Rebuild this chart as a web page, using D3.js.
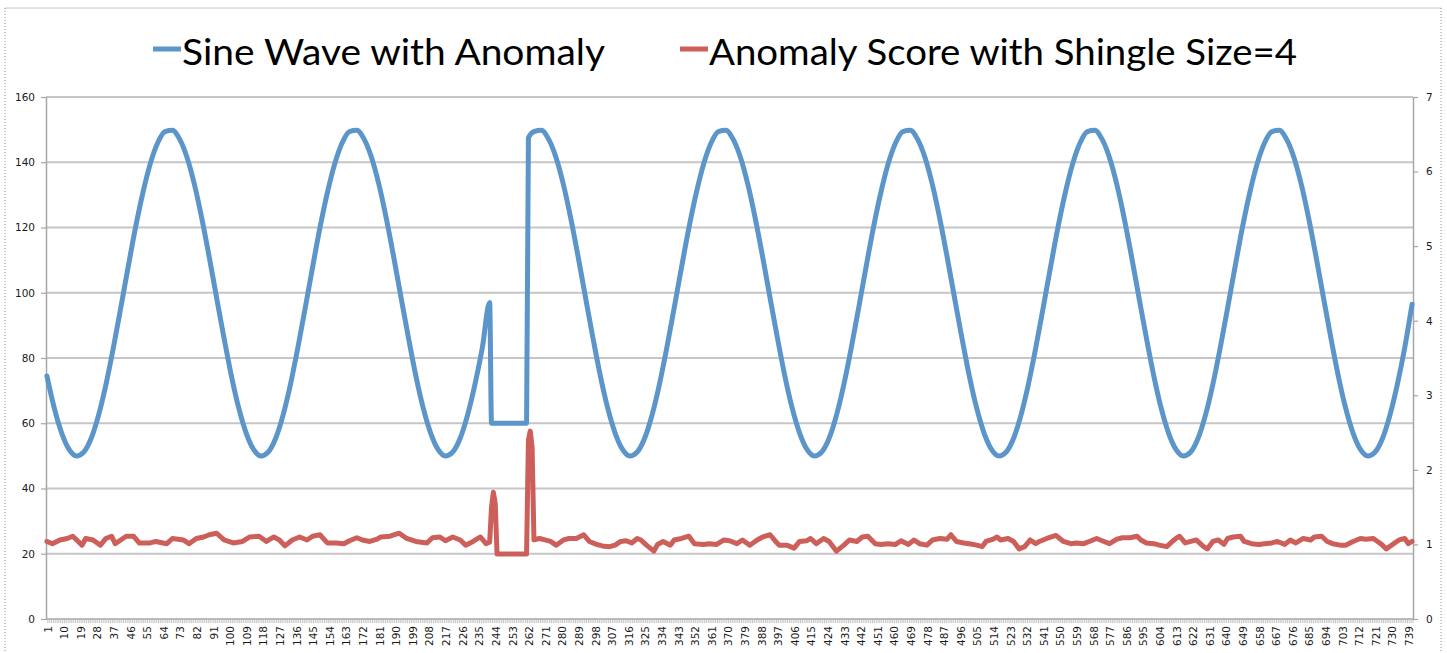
<!DOCTYPE html>
<html>
<head>
<meta charset="utf-8">
<script src="https://d3js.org/d3.v7.min.js"></script>
<style>
	body { margin: 0; background: #fff; }
	svg { display: block; }
</style>
</head>
<body>
<div id="chart"></div>
<script>
// x categories 1..741, one label every 9th category
const categories = d3.range(1, 742);
const xLabels = categories.filter(d => (d - 1) % 9 === 0);
const leftTicks = [0, 20, 40, 60, 80, 100, 120, 140, 160];
const rightTicks = [0, 1, 2, 3, 4, 5, 6, 7];
const seriesNames = ["Sine Wave with Anomaly", "Anomaly Score with Shingle Size=4"];

// [category, value] (left axis)
const sineWave = [
	[1,74.5],[5,64.6],[9,57],[13,52],[17,50],[21,51.2],[25,55.4],[29,62.5],[33,71.9],[37,83.1],[41,95.3],[45,107.8],[49,119.9],
	[53,130.6],[57,139.5],[61,145.9],[65,149.4],[69,149.8],[73,147],[77,141.4],[81,133.1],[85,122.7],[89,110.9],[93,98.4],[97,86.1],
	[101,74.5],[105,64.6],[109,57],[113,52],[117,50],[121,51.2],[125,55.4],[129,62.5],[133,71.9],[137,83.1],[141,95.3],[145,107.8],[149,119.9],
	[153,130.6],[157,139.5],[161,145.9],[165,149.4],[169,149.8],[173,147],[177,141.4],[181,133.1],[185,122.7],[189,110.9],[193,98.4],[197,86.1],
	[201,74.5],[205,64.6],[209,57],[213,52],[217,50],[221,51.2],[225,55.4],[229,62.5],[233,71.9],[237,83.1],[241,97],
	[242,60],[261,60],[262,147.5],
	[265,149.4],[269,149.8],[273,147],[277,141.4],[281,133.1],[285,122.7],[289,110.9],[293,98.4],[297,86.1],
	[301,74.5],[305,64.6],[309,57],[313,52],[317,50],[321,51.2],[325,55.4],[329,62.5],[333,71.9],[337,83.1],[341,95.3],[345,107.8],[349,119.9],
	[353,130.6],[357,139.5],[361,145.9],[365,149.4],[369,149.8],[373,147],[377,141.4],[381,133.1],[385,122.7],[389,110.9],[393,98.4],[397,86.1],
	[401,74.5],[405,64.6],[409,57],[413,52],[417,50],[421,51.2],[425,55.4],[429,62.5],[433,71.9],[437,83.1],[441,95.3],[445,107.8],[449,119.9],
	[453,130.6],[457,139.5],[461,145.9],[465,149.4],[469,149.8],[473,147],[477,141.4],[481,133.1],[485,122.7],[489,110.9],[493,98.4],[497,86.1],
	[501,74.5],[505,64.6],[509,57],[513,52],[517,50],[521,51.2],[525,55.4],[529,62.5],[533,71.9],[537,83.1],[541,95.3],[545,107.8],[549,119.9],
	[553,130.6],[557,139.5],[561,145.9],[565,149.4],[569,149.8],[573,147],[577,141.4],[581,133.1],[585,122.7],[589,110.9],[593,98.4],[597,86.1],
	[601,74.5],[605,64.6],[609,57],[613,52],[617,50],[621,51.2],[625,55.4],[629,62.5],[633,71.9],[637,83.1],[641,95.3],[645,107.8],[649,119.9],
	[653,130.6],[657,139.5],[661,145.9],[665,149.4],[669,149.8],[673,147],[677,141.4],[681,133.1],[685,122.7],[689,110.9],[693,98.4],[697,86.1],
	[701,74.5],[705,64.6],[709,57],[713,52],[717,50],[721,51.2],[725,55.4],[729,62.5],[733,71.9],[737,83.1],[741,96.5]
];

// [category, value] (right axis)
const anomalyScore = [
	[1,1.04],[4,1.01],[8,1.06],[12,1.08],[15,1.11],[18,1.04],[20,0.99],[22,1.08],[26,1.06],[30,0.99],[33,1.08],[36,1.11],
	[38,1.01],[41,1.06],[44,1.11],[48,1.11],[51,1.02],[57,1.02],[60,1.04],[66,1.01],[69,1.08],[75,1.06],[78,1.01],[82,1.08],
	[86,1.10],[89,1.13],[93,1.15],[97,1.06],[102,1.02],[107,1.04],[111,1.10],[116,1.11],[120,1.04],[124,1.10],[127,1.06],
	[130,0.98],[134,1.06],[138,1.10],[142,1.06],[145,1.11],[149,1.13],[153,1.02],[158,1.02],[162,1.01],[165,1.05],[169,1.09],
	[172,1.06],[176,1.04],[180,1.07],[182,1.10],[187,1.11],[192,1.15],[196,1.08],[201,1.04],[207,1.02],[210,1.09],[214,1.10],
	[217,1.05],[221,1.10],[225,1.06],[228,0.99],[232,1.04],[236,1.10],[239,1.01],[241,1.03],
	[242,1.5],[243,1.70],[244,1.55],[245,0.87],[261,0.87],[262,2.4],[263,2.52],[264,2.3],[265,1.06],
	[268,1.08],[271,1.06],[274,1.04],[277,0.99],[281,1.06],[284,1.08],[288,1.08],[292,1.13],[295,1.04],[299,1.00],[302,0.98],
	[306,0.97],[309,0.99],[312,1.04],[315,1.05],[318,1.02],[321,1.08],[323,1.06],[326,0.99],[330,0.91],[332,1.00],[335,1.04],
	[339,0.99],[341,1.06],[345,1.08],[349,1.11],[352,1.01],[357,1.00],[360,1.01],[364,1.00],[368,1.06],[371,1.05],[375,1.01],
	[378,1.06],[382,0.99],[386,1.06],[389,1.10],[393,1.13],[396,1.04],[398,0.99],[402,0.99],[406,0.95],[409,1.04],[413,1.05],
	[415,1.08],[418,1.01],[422,1.08],[425,1.04],[429,0.91],[433,0.99],[436,1.06],[440,1.04],[443,1.10],[446,1.11],[450,1.01],
	[453,1.00],[457,1.01],[461,1.00],[464,1.05],[468,1.00],[471,1.06],[474,1.01],[478,0.99],[481,1.06],[485,1.08],[489,1.07],
	[491,1.13],[494,1.04],[498,1.02],[501,1.01],[505,0.99],[508,0.97],[510,1.04],[514,1.07],[516,1.10],[518,1.06],[522,1.08],
	[525,1.04],[528,0.94],[531,0.97],[534,1.06],[537,1.01],[539,1.04],[543,1.08],[548,1.12],[552,1.04],[556,1.01],[559,1.02],
	[563,1.01],[566,1.04],[570,1.08],[574,1.04],[577,1.01],[581,1.07],[584,1.09],[588,1.09],[592,1.11],[594,1.06],[597,1.02],
	[601,1.01],[604,0.99],[608,0.97],[611,1.04],[613,1.08],[615,1.11],[618,1.02],[621,1.04],[624,1.06],[628,0.97],[630,0.94],
	[633,1.04],[636,1.06],[639,1.00],[641,1.08],[644,1.10],[648,1.11],[650,1.04],[654,1.01],[658,1.00],[661,1.01],[665,1.02],
	[668,1.04],[672,1.00],[675,1.06],[678,1.02],[682,1.08],[686,1.06],[688,1.10],[692,1.11],[695,1.04],[698,1.01],[702,0.99],
	[705,0.99],[709,1.04],[713,1.08],[716,1.07],[720,1.08],[724,1.01],[727,0.94],[731,1.01],[734,1.06],[737,1.08],[739,1.01],[741,1.04]
];

const CONFIG = {
	width: 1447,
	height: 653,
	plot: {left: 46, right: 1413, top: 97, bottom: 619},
	colors: ["#5b95c9", "#cd5f5a"],
	lineWidth: 5
};

const svg = d3.select("#chart")
	.append("svg")
	.attr("width", CONFIG.width)
	.attr("height", CONFIG.height);

const p = CONFIG.plot;

// scales
const x = d3.scalePoint()
	.domain(categories)
	.range([p.left, p.right])
	.padding(0.5);

const yLeft = d3.scaleLinear()
	.domain([0, 160])
	.range([p.bottom, p.top]);

const yRight = d3.scaleLinear()
	.domain([0, 7])
	.range([p.bottom, p.top]);

// chart frame
svg.append("line")
	.attr("x1", 5).attr("x2", 1441).attr("y1", 8).attr("y2", 8)
	.attr("stroke", "#c8c8c8").attr("stroke-width", 1);
svg.selectAll("line.frame")
	.data([5, 1441]).enter()
	.append("line")
	.attr("class", "frame")
	.attr("x1", d => d).attr("x2", d => d)
	.attr("y1", 8).attr("y2", CONFIG.height)
	.attr("stroke", "#8a8a8a")
	.attr("stroke-dasharray", "1,2");

// gridlines
svg.append("g")
	.selectAll("line")
	.data(leftTicks.filter(d => d > 0)).enter()
	.append("line")
	.attr("x1", p.left).attr("x2", p.right)
	.attr("y1", d => yLeft(d)).attr("y2", d => yLeft(d))
	.attr("stroke", "#c6c6c6")
	.attr("stroke-width", 2);

const axisFont = "'DejaVu Sans', Verdana, sans-serif";

function styleAxis(g) {
	g.select(".domain").attr("stroke", "#a6a6a6").attr("stroke-width", 1.5);
	g.selectAll(".tick line").attr("stroke", "#a6a6a6").attr("stroke-width", 1.2);
	g.selectAll(".tick text")
		.attr("fill", "#1a1a1a")
		.style("font-family", axisFont)
		.style("font-size", "10.5px");
}

svg.append("g")
	.attr("transform", `translate(${p.left},0)`)
	.call(d3.axisLeft(yLeft).tickValues(leftTicks).tickSize(5).tickPadding(6).tickSizeOuter(0))
	.call(styleAxis);

svg.append("g")
	.attr("transform", `translate(${p.right},0)`)
	.call(d3.axisRight(yRight).tickValues(rightTicks).tickFormat(d3.format("d"))
		.tickSize(5).tickPadding(8).tickSizeOuter(0))
	.call(styleAxis);

// category axis: a tick between every category, rotated labels
const step = x.step();
const xAxis = svg.append("g");
xAxis.append("line")
	.attr("x1", p.left).attr("x2", p.right)
	.attr("y1", p.bottom).attr("y2", p.bottom)
	.attr("stroke", "#a6a6a6").attr("stroke-width", 1.5);
xAxis.append("g")
	.selectAll("line")
	.data(categories).enter()
	.append("line")
	.attr("x1", d => x(d) + step / 2).attr("x2", d => x(d) + step / 2)
	.attr("y1", p.bottom).attr("y2", p.bottom + 4)
	.attr("stroke", "#b4b4b4").attr("stroke-width", 0.8);
xAxis.append("g")
	.selectAll("text")
	.data(xLabels).enter()
	.append("text")
	.attr("transform", d => `translate(${x(d) + 1},${p.bottom + 7}) rotate(-90)`)
	.attr("dy", "0.35em")
	.attr("text-anchor", "end")
	.attr("fill", "#1a1a1a")
	.style("font-family", axisFont)
	.style("font-size", "10.5px")
	.text(d => d);

// series: the wave is smooth, the score keeps its jagged segments
const lineLeft = d3.line().curve(d3.curveMonotoneX).x(d => x(d[0])).y(d => yLeft(d[1]));
const lineRight = d3.line().x(d => x(d[0])).y(d => yRight(d[1]));

svg.append("path")
	.datum(sineWave)
	.attr("d", lineLeft)
	.attr("fill", "none")
	.attr("stroke", CONFIG.colors[0])
	.attr("stroke-width", CONFIG.lineWidth)
	.attr("stroke-linejoin", "round")
	.attr("stroke-linecap", "round");

svg.append("path")
	.datum(anomalyScore)
	.attr("d", lineRight)
	.attr("fill", "none")
	.attr("stroke", CONFIG.colors[1])
	.attr("stroke-width", CONFIG.lineWidth)
	.attr("stroke-linejoin", "round")
	.attr("stroke-linecap", "round");

// legend
const legendItems = [
	{name: seriesNames[0], color: CONFIG.colors[0], x: 153, len: 423},
	{name: seriesNames[1], color: CONFIG.colors[1], x: 680, len: 588}
];

const legend = svg.append("g")
	.selectAll("g")
	.data(legendItems).enter()
	.append("g")
	.attr("transform", d => `translate(${d.x},0)`);

legend.append("line")
	.attr("x1", 0).attr("x2", 28)
	.attr("y1", 49).attr("y2", 49)
	.attr("stroke", d => d.color)
	.attr("stroke-width", 5);

legend.append("text")
	.attr("x", 29)
	.attr("y", 65)
	.attr("fill", "#000")
	.attr("textLength", d => d.len)
	.attr("lengthAdjust", "spacingAndGlyphs")
	.style("font-family", "Lato, 'Open Sans', sans-serif")
	.style("font-size", "36px")
	.text(d => d.name);
</script>
</body>
</html>
